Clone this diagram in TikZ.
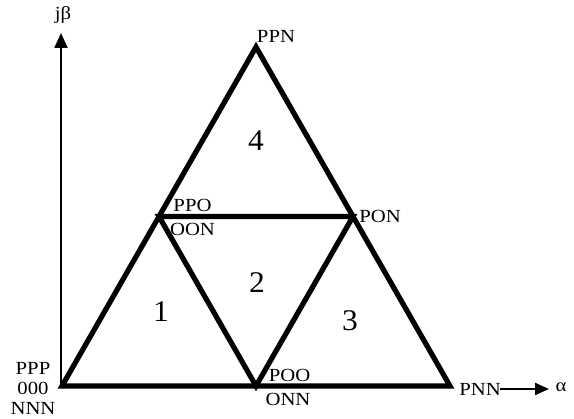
\documentclass[tikz,border=0pt]{standalone}
\usepackage{fontspec}
\setmainfont{Liberation Serif}
\usetikzlibrary{arrows.meta}
\newcommand{\widetxt}[1]{\scalebox{1.12}[1]{#1}}
\begin{document}
\begin{tikzpicture}[x=1pt,y=-1pt,
  lbl/.style={font=\fontsize{18.5}{20}\selectfont, inner sep=0pt},
  num/.style={font=\fontsize{30}{32}\selectfont, inner sep=0pt},
  heavy/.style={line width=5.2pt, line join=miter},
  axis/.style={line width=2.2pt, -{Triangle[length=15pt,width=13pt]}}]
\useasboundingbox (0,0) rectangle (574,419);
% vertices
\coordinate (A) at (62,386);
\coordinate (B) at (450,386);
\coordinate (C) at (256,47);
\coordinate (AB) at (256,386);
\coordinate (AC) at (159,216.5);
\coordinate (BC) at (353,216.5);
% axes
\coordinate (O) at (61,386);
\coordinate (Ytip) at (61,33);
\draw[axis] (O) -- (Ytip);
\node[lbl] (jb) at (63,15) {\widetxt{jβ}};
% triangles
\draw[heavy] (A) -- (B) -- (C) -- cycle;
\draw[heavy] (AC) -- (BC) -- (AB) -- cycle;
% labels
\node[lbl] (ppn) at (276,36) {\widetxt{PPN}};
\node[lbl] (ppo) at (192.5,205) {\widetxt{PPO}};
\node[lbl] (oon) at (192.5,229) {\widetxt{OON}};
\node[lbl] (pon) at (380,216) {\widetxt{PON}};
\node[lbl] (poo) at (289.5,375) {\widetxt{POO}};
\node[lbl] (onn) at (288,399) {\widetxt{ONN}};
\node[lbl] (ppp) at (33,368) {\widetxt{PPP}};
\node[lbl] (zzz) at (33,388) {\widetxt{000}};
\node[lbl] (nnn) at (33,408) {\widetxt{NNN}};
\node[lbl] (pnn) at (480,389) {\widetxt{PNN}};
\coordinate (Xs) at (500,389);
\coordinate (Xtip) at (549,389);
\draw[line width=2.2pt, -{Triangle[length=14pt,width=12pt]}] (Xs) -- (Xtip);
\node[lbl] (al) at (561,387) {\widetxt{α}};
% region numbers
\node[num] (n4) at (256,141) {\scalebox{1.05}[1]{4}};
\node[num] (n1) at (161,312) {\scalebox{1.05}[1]{1}};
\node[num] (n2) at (257,283) {\scalebox{1.05}[1]{2}};
\node[num] (n3) at (350,321) {\scalebox{1.05}[1]{3}};
\end{tikzpicture}
\end{document}
